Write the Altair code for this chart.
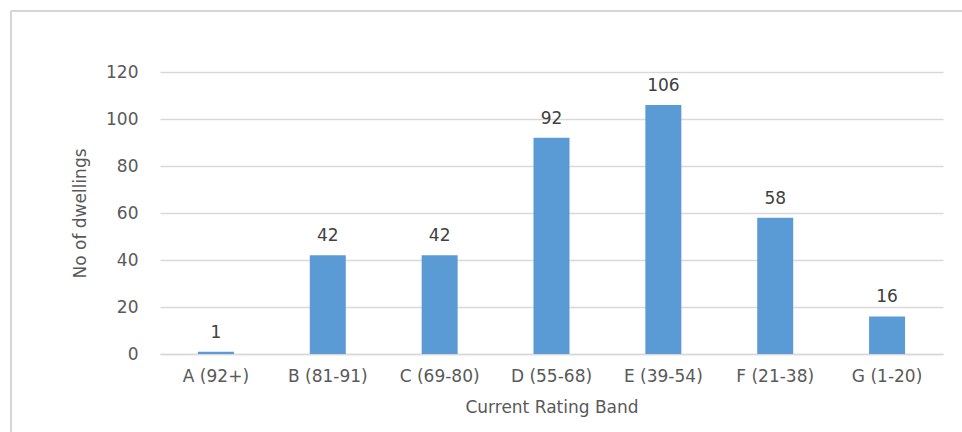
import altair as alt
import pandas as pd

bands = ["A (92+)", "B (81-91)", "C (69-80)", "D (55-68)", "E (39-54)", "F (21-38)", "G (1-20)"]
dwellings = [1, 42, 42, 92, 106, 58, 16]
y_ticks = [0, 20, 40, 60, 80, 100, 120]

df = pd.DataFrame({"band": bands, "dwellings": dwellings})

FONT = "DejaVu Sans"
FS = 17

x_enc = alt.X(
    "band:N",
    sort=bands,
    scale=alt.Scale(paddingInner=0.0, paddingOuter=0.0),
    axis=alt.Axis(
        title="Current Rating Band",
        labelAngle=0,
        labelFont=FONT,
        labelFontSize=FS,
        labelColor="#595959",
        labelPadding=14,
        ticks=False,
        domain=True,
        domainColor="#d9d9d9",
        domainWidth=1.5,
        titleFont=FONT,
        titleFontSize=FS,
        titleFontWeight="normal",
        titleColor="#595959",
        titlePadding=15,
    ),
)

y_enc = alt.Y(
    "dwellings:Q",
    scale=alt.Scale(domain=[0, 120], nice=False),
    axis=alt.Axis(
        title="No of dwellings",
        values=y_ticks,
        labelFont=FONT,
        labelFontSize=FS,
        labelColor="#595959",
        labelPadding=22,
        ticks=False,
        domain=False,
        grid=True,
        gridColor="#d9d9d9",
        gridWidth=1.5,
        titleFont=FONT,
        titleFontSize=FS,
        titleFontWeight="normal",
        titleColor="#595959",
        titlePadding=16,
    ),
)

bars = alt.Chart(df).mark_bar(color="#5b9bd5", size=36).encode(x=x_enc, y=y_enc)

labels = alt.Chart(df).mark_text(
    font=FONT, fontSize=FS, color="#404040", baseline="bottom", dy=-10
).encode(
    x=alt.X("band:N", sort=bands),
    y=alt.Y("dwellings:Q"),
    text="dwellings:Q",
)

border_top = alt.Chart(df).mark_rule(color="#d6d6d6", strokeWidth=2).encode(
    x=alt.value(-149), x2=alt.value(820), y=alt.value(-61)
)
border_left = alt.Chart(df).mark_rule(color="#d6d6d6", strokeWidth=2).encode(
    x=alt.value(-149), y=alt.value(-61), y2=alt.value(380)
)

chart = alt.layer(border_top, border_left, bars, labels).properties(
    width=783,
    height=282,
    autosize=alt.AutoSizeParams(type="none"),
    padding={"left": 160, "top": 72, "right": 19, "bottom": 78},
    background="white",
).configure_view(stroke=None)

chart.save("out.html", embed_options={"renderer": "svg", "actions": False})
